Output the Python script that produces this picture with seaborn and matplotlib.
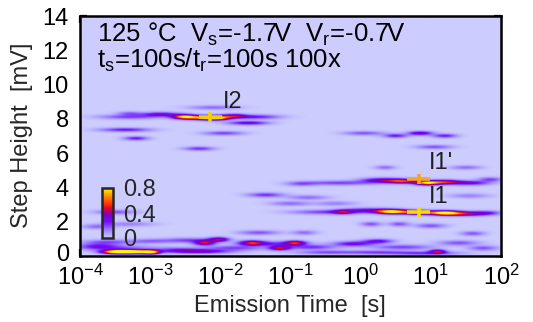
import numpy as np
import matplotlib
matplotlib.use("Agg")
import matplotlib.pyplot as plt
import matplotlib.transforms as mtransforms
import seaborn as sns
from matplotlib.colors import LinearSegmentedColormap

# ---------------- data ----------------
# density blobs: log10(emission time [s]), step height [mV], widths, amplitude
blob_logt = [-3.48, -3.20, -2.98, -3.40, -3.75, -3.60, -2.22, -2.02, -2.45, -1.55,
             -1.15, -1.80, -2.60, -2.30, -1.25, -0.93, -0.70, -0.10, -0.50, 0.25,
             0.60, 1.10, 0.90, 1.40, 1.75, 0.20, -3.00,
             -3.75, -3.50, -3.30, -1.45, -1.35, -1.00, -0.75, -0.80, -0.35, 0.15,
             0.55, 1.00, 1.60, 1.55,
             -0.50, -0.25, 0.45, 0.82, 1.20, 1.50, 1.80, 0.10,
             -0.30, 0.30, 0.60, 0.95, 1.20, 1.55, 1.85, -0.85,
             0.35, 1.50, 0.05, 0.50, 0.85, 1.20, 1.05,
             -3.30, -2.85, -2.50, -2.25, -2.05, -1.80, -1.50, -1.60, -3.30, -2.10,
             -3.35, -3.20, -1.95, -2.30]
blob_h = [0.28, 0.28, 0.26, 0.50, 0.60, 0.85, 0.80, 1.00, 0.95, 0.80,
          0.50, 0.50, 0.40, 0.30, 0.75, 0.80, 0.55, 0.75, 0.25, 0.90,
          0.55, 0.30, 0.20, 0.80, 0.50, 0.25, 0.90,
          1.75, 2.60, 1.90, 1.40, 3.60, 3.10, 3.45, 1.40, 3.10, 1.90,
          1.90, 1.80, 1.35, 3.55,
          2.60, 2.60, 2.62, 2.58, 2.55, 2.50, 2.55, 2.70,
          4.30, 4.45, 4.40, 4.30, 4.35, 4.30, 4.50, 4.25,
          5.20, 5.20, 7.20, 7.05, 7.20, 7.05, 6.40,
          8.15, 8.30, 8.15, 8.10, 8.10, 8.20, 8.15, 7.80, 8.35, 8.70,
          7.40, 6.90, 7.20, 6.30]
blob_sx = [0.14, 0.16, 0.08, 0.35, 0.20, 0.25, 0.10, 0.10, 0.25, 0.12,
           0.10, 0.30, 0.25, 0.30, 0.30, 0.10, 0.25, 0.20, 0.30, 0.15,
           0.30, 0.08, 0.35, 0.20, 0.15, 0.30, 0.20,
           0.15, 0.20, 0.25, 0.20, 0.18, 0.20, 0.20, 0.12, 0.20, 0.10,
           0.10, 0.15, 0.12, 0.20,
           0.35, 0.10, 0.15, 0.15, 0.15, 0.20, 0.15, 0.25,
           0.35, 0.20, 0.15, 0.12, 0.15, 0.20, 0.12, 0.15,
           0.10, 0.15, 0.20, 0.12, 0.12, 0.12, 0.18,
           0.30, 0.20, 0.12, 0.12, 0.12, 0.12, 0.25, 0.20, 0.12, 0.25,
           0.25, 0.12, 0.20, 0.15]
blob_sy = [0.08, 0.08, 0.08, 0.12, 0.12, 0.10, 0.10, 0.09, 0.10, 0.10,
           0.09, 0.10, 0.10, 0.08, 0.10, 0.09, 0.10, 0.10, 0.08, 0.09,
           0.10, 0.08, 0.08, 0.10, 0.10, 0.08, 0.09,
           0.09, 0.09, 0.09, 0.09, 0.09, 0.09, 0.09, 0.09, 0.09, 0.09,
           0.09, 0.09, 0.09, 0.09,
           0.09, 0.09, 0.09, 0.09, 0.09, 0.09, 0.09, 0.10,
           0.09, 0.10, 0.09, 0.09, 0.09, 0.09, 0.09, 0.09,
           0.08, 0.08, 0.08, 0.08, 0.08, 0.08, 0.08,
           0.09, 0.09, 0.09, 0.09, 0.09, 0.09, 0.09, 0.08, 0.08, 0.08,
           0.08, 0.08, 0.08, 0.08]
blob_amp = [0.95, 0.95, 0.60, 0.15, 0.22, 0.18, 0.45, 0.42, 0.20, 0.45,
            0.45, 0.20, 0.18, 0.35, 0.22, 0.45, 0.22, 0.28, 0.18, 0.28,
            0.20, 0.42, 0.22, 0.18, 0.18, 0.18, 0.15,
            0.15, 0.18, 0.12, 0.18, 0.22, 0.15, 0.15, 0.15, 0.12, 0.18,
            0.18, 0.18, 0.18, 0.12,
            0.20, 0.30, 0.85, 0.60, 0.85, 0.40, 0.20, 0.28,
            0.20, 0.35, 0.50, 0.72, 0.45, 0.30, 0.20, 0.15,
            0.15, 0.15, 0.18, 0.25, 0.35, 0.25, 0.18,
            0.20, 0.30, 0.80, 0.55, 0.85, 0.35, 0.25, 0.30, 0.15, 0.15,
            0.25, 0.25, 0.20, 0.22]

# extracted trap centres (cross markers)
trap_names = ["I2", "I1'", "I1"]
trap_tau = [7.2e-3, 6.7, 6.7]
trap_step = [8.1, 4.5, 2.57]
trap_colors = ["#f2d000", "#f5a623", "#f7dc00"]
label_tau = [1.07e-2, 9.3, 9.3]
label_step = [8.98, 5.43, 3.44]

xtick_vals = [1e-4, 1e-3, 1e-2, 1e-1, 1e0, 1e1, 1e2]
xtick_labels = [r"$\mathregular{10^{-4}}$", r"$\mathregular{10^{-3}}$", r"$\mathregular{10^{-2}}$",
                r"$\mathregular{10^{-1}}$", r"$\mathregular{10^{0}}$", r"$\mathregular{10^{1}}$",
                r"$\mathregular{10^{2}}$"]
ytick_vals = [0, 2, 4, 6, 8, 10, 12, 14]
cbar_ticks = [0, 0.4, 0.8]
cbar_labels = ["0", "0.4", "0.8"]

# ---------------- styling ----------------
sns.set_theme(style="ticks")
plt.rcParams["font.family"] = ["Liberation Sans", "DejaVu Sans"]
plt.rcParams["mathtext.fontset"] = "custom"
plt.rcParams["mathtext.rm"] = "Liberation Sans"
plt.rcParams["mathtext.it"] = "Liberation Sans:italic"
plt.rcParams["mathtext.bf"] = "Liberation Sans:bold"

FS = 17
FS_NOTE = 18.5

cmap = LinearSegmentedColormap.from_list(
    "tddsmap",
    [(0.00, (0.80, 0.80, 1.00)),
     (0.12, (0.62, 0.52, 1.00)),
     (0.26, (0.45, 0.05, 1.00)),
     (0.38, (0.50, 0.00, 0.72)),
     (0.48, (0.95, 0.00, 0.15)),
     (0.60, (1.00, 0.35, 0.00)),
     (0.72, (1.00, 0.70, 0.00)),
     (0.80, (1.00, 1.00, 0.00)),
     (1.00, (1.00, 1.00, 0.00))])

# ---------------- density map ----------------
lx = np.linspace(-4, 2, 721)
hy = np.linspace(0, 14, 701)
LX, HY = np.meshgrid(lx, hy)
Z = np.zeros_like(LX)
for cx, cy, sx, sy, a in zip(blob_logt, blob_h, blob_sx, blob_sy, blob_amp):
    Z += a * np.exp(-0.5 * ((LX - cx) / sx) ** 2 - 0.5 * ((HY - cy) / sy) ** 2)
Z = np.clip(Z, 0, 1.0)

fig = plt.figure(figsize=(5.33, 3.22), dpi=100)
ax = fig.add_axes([80 / 533, 66 / 322, 421 / 533, 240 / 322])
mesh = ax.pcolormesh(10 ** lx, hy, Z, cmap=cmap, vmin=0, vmax=1.0, shading="gouraud",
                     rasterized=True)

ax.set_xscale("log")
ax.set_xlim(1e-4, 1e2)
ax.set_ylim(0, 14)
ax.set_xticks(xtick_vals)
ax.set_xticklabels(xtick_labels)
ax.set_yticks(ytick_vals)
ax.set_yticklabels([str(v) for v in ytick_vals])
ax.minorticks_off()
ax.tick_params(axis="both", direction="in", length=5, width=1.6, top=True, right=True,
               labelsize=FS, colors="black")
ax.tick_params(axis="x", pad=6)
ax.tick_params(axis="y", pad=8)
for sp in ax.spines.values():
    sp.set_linewidth(1.8)
    sp.set_color("black")
    sp.set_zorder(5)

# lift the "0" label slightly so it does not touch the 10^-4 label
zero_lbl = ax.get_yticklabels()[0]
zero_lbl.set_transform(zero_lbl.get_transform() +
                       mtransforms.ScaledTranslation(0, 2.5 / 72, fig.dpi_scale_trans))

# crosses
f = 10 ** 0.165
for t, s, c in zip(trap_tau, trap_step, trap_colors):
    ax.errorbar([t], [s], xerr=[[t - t / f], [t * f - t]], yerr=[[0.3], [0.3]],
                fmt="none", ecolor=c, elinewidth=2.6, capsize=0, zorder=4)

for n, t, s in zip(trap_names, label_tau, label_step):
    ax.text(t, s, n, fontsize=FS, ha="left", va="center", color="#202020", zorder=6)

ax.text(0.04, 0.893, r"125 °C  V$_\mathregular{s}$=-1.7V  V$_\mathregular{r}$=-0.7V",
        transform=ax.transAxes, fontsize=FS_NOTE, va="baseline", ha="left", color="black")
ax.text(0.04, 0.783, r"t$_\mathregular{s}$=100s/t$_\mathregular{r}$=100s 100x",
        transform=ax.transAxes, fontsize=FS_NOTE, va="baseline", ha="left", color="black")

fig.text(290 / 533, 1 - 312 / 322, "Emission Time  [s]", fontsize=FS, ha="center",
         va="baseline")
fig.text(22 / 533, 1 - 135 / 322, "Step Height  [mV]", fontsize=FS, ha="center",
         va="center", rotation=90)

# colour bar inset
cax = fig.add_axes([102 / 533, (322 - 238) / 322, 11 / 533, 50 / 322])
cb = fig.colorbar(mesh, cax=cax, ticks=cbar_ticks)
cb.ax.set_ylim(0, 0.8)
cb.set_ticklabels(cbar_labels)
cb.ax.tick_params(length=0, labelsize=FS, pad=7)
cb.outline.set_linewidth(1.8)

fig.savefig("out.png", dpi=100)
